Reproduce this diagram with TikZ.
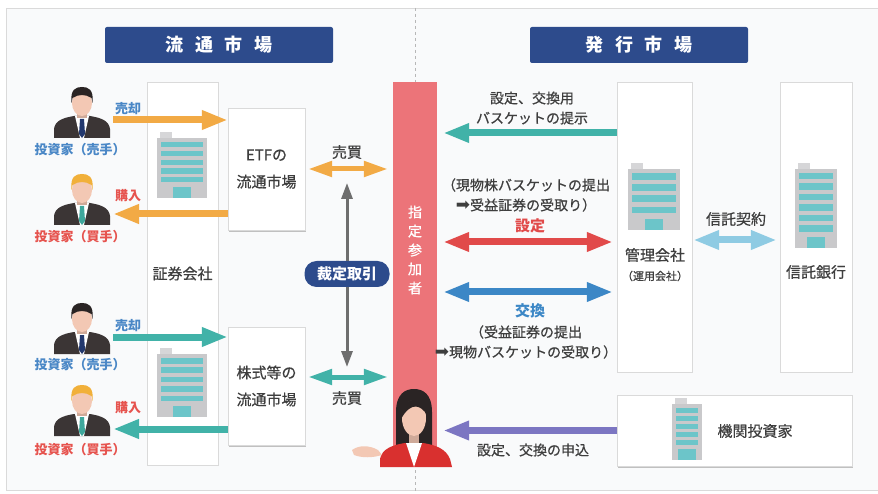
\documentclass[tikz,border=0pt]{standalone}
\usepackage{fontspec}
\setmainfont{Noto Sans CJK JP}
\newfontfamily\medfont[FakeBold=0.6]{Noto Sans CJK JP}
\newfontfamily\symfont{DejaVu Sans}
\usepackage{tikz}
\usetikzlibrary{arrows.meta,positioning,shadows}
\definecolor{headnavy}{HTML}{2D4B8C}
\definecolor{txtgray}{HTML}{3E3E3E}
\definecolor{sellblue}{HTML}{4A87C6}
\definecolor{buyred}{HTML}{E6534E}
\definecolor{arrorange}{HTML}{F2AA45}
\definecolor{arrteal}{HTML}{41B2A8}
\definecolor{arrred}{HTML}{E14A4A}
\definecolor{arrblue}{HTML}{3C87C6}
\definecolor{arrsky}{HTML}{8FCBE3}
\definecolor{arrpurple}{HTML}{7C76C2}
\definecolor{arrgray}{HTML}{6E6E6E}
\definecolor{barred}{HTML}{EC7479}
\definecolor{panelbg}{HTML}{F9FAFB}
\definecolor{framegray}{HTML}{DADADA}
\definecolor{bldgray}{HTML}{C9C9CB}
\definecolor{bldteal}{HTML}{6CC5C9}
\definecolor{suit}{HTML}{3B3535}
\definecolor{skin}{HTML}{F3C8B4}
\definecolor{hairdark}{HTML}{2A2424}
\definecolor{hairblond}{HTML}{F1B03A}
\definecolor{tienavy}{HTML}{22386E}
\definecolor{tieteal}{HTML}{3EA79C}
\definecolor{jacket}{HTML}{D9302F}

% office building: x0, y0, x1, y1, floors
\newcommand\officeicon[5]{%
  \fill[bldgray!75] (#1+3,#2) rectangle (#1+15,#2+7);
  \fill[bldgray] (#1,#2+6) rectangle (#3,#4);
  \pgfmathsetmacro\floorstep{(#4-#2-22)/#5}
  \foreach \fl in {1,...,#5}
    \fill[bldteal] (#1+4,{#2+10+(\fl-1)*\floorstep}) rectangle (#3-4,{#2+10+(\fl-1)*\floorstep+0.6*\floorstep});
  \fill[bldteal] ({(#1+#3)/2-9},#4-11) rectangle ({(#1+#3)/2+9},#4);
}

\tikzset{
  pics/investor/.style n args={2}{code={
    \fill[suit] (-28,35) -- (-28,26) .. controls (-27,18) and (-20,15) .. (-8,13)
      -- (8,13) .. controls (20,15) and (27,18) .. (28,26) -- (28,35) -- cycle;
    \fill[white] (-7,13) -- (7,13) -- (2,35) -- (-2,35) -- cycle;
    \fill[#2] (-2,16) -- (2,16) -- (3,31) -- (0,35) -- (-3,31) -- cycle;
    \fill[skin!85!black] (-5,6) rectangle (5,15);
    \fill[skin] (0,0) ellipse (10 and 13);
    \fill[#1] (-10.5,0) .. controls (-12,-14) and (-6,-16) .. (0,-16)
      .. controls (6,-16) and (12,-14) .. (10.5,0) -- (9.5,-5)
      .. controls (4,-9) and (-4,-9) .. (-9.5,-5) -- cycle;
  }},
  pics/agent/.style={code={
    \fill[hairdark] (-18,35) -- (-18,-5) .. controls (-18,-23) and (-9,-28) .. (0,-28)
      .. controls (9,-28) and (18,-23) .. (18,-5) -- (18,35) -- cycle;
    \fill[skin!85!black] (-5,10) rectangle (5,28);
    \fill[jacket] (-34,50) -- (-34,42) .. controls (-32,32) and (-22,28) .. (-9,26)
      -- (9,26) .. controls (22,28) and (32,32) .. (36,42) -- (38,50) -- cycle;
    \fill[white] (-8,26) -- (8,26) -- (0,50) -- cycle;
    \fill[skin] (0,1) ellipse (12 and 18);
    \fill[hairdark] (-13,2) .. controls (-14,-22) and (11,-24) .. (13,-2)
      .. controls (7,-12) and (-3,-16) .. (-13,2) -- cycle;
    \fill[skin] (-62,33) .. controls (-55,28) and (-45,28) .. (-36,33) -- (-32,38)
      .. controls (-42,41) and (-52,41) .. (-60,38) -- cycle;
  }}
}

\begin{document}
\begin{tikzpicture}[
  x=1pt,y=-1pt,
  every node/.style={text=txtgray,font=\medfont\fontsize{15}{18}\selectfont},
  header/.style={fill=headnavy,rounded corners=2pt,minimum height=36pt,text=white,
    font=\rmfamily\fontsize{18}{20}\selectfont\bfseries},
  column/.style={draw=framegray,fill=white},
  market/.style={draw=framegray,fill=white,align=center,
    drop shadow={shadow xshift=1pt,shadow yshift=-2pt,fill=black!30,opacity=.8},
    font=\medfont\fontsize{15}{27}\selectfont},
  note/.style={inner sep=1pt,align=center,font=\medfont\fontsize{14}{20}\selectfont},
  seller/.style={inner sep=1pt,text=sellblue,font=\rmfamily\fontsize{13}{15}\selectfont\bfseries},
  buyer/.style={inner sep=1pt,text=buyred,font=\rmfamily\fontsize{13}{15}\selectfont\bfseries},
  flow/.style={line width=7pt,-{Triangle[length=26pt,width=18pt]}},
  flowboth/.style={line width=7pt,{Triangle[length=26pt,width=18pt]}-{Triangle[length=26pt,width=18pt]}},
  trade/.style={line width=5pt,{Triangle[length=24pt,width=15pt]}-{Triangle[length=24pt,width=15pt]}},
  arbflow/.style={line width=3pt,draw=arrgray,-{Triangle[length=16pt,width=11pt]}}
]
\useasboundingbox (0,0) rectangle (878,494);
\fill[white] (0,0) rectangle (878,494);
\draw[framegray,fill=panelbg] (6,8) rectangle (884,490);
\draw[dashed,arrgray!50,line width=1pt] (415,8) -- (415,494);

% headers
\node[header,minimum width=228pt] (secondary) at (219,45) {流\hspace{.65em}通\hspace{.65em}市\hspace{.65em}場};
\node[header,minimum width=218pt] (primary) at (639,45) {発\hspace{.65em}行\hspace{.65em}市\hspace{.65em}場};

% secondary market
\node[column,minimum width=71pt,minimum height=383pt] (broker) at (182.5,273.5) {証券会社};
\officeicon{157}{132}{207}{198}{5}
\officeicon{157}{348}{207}{417}{5}
\node[market,minimum width=77pt,minimum height=122pt] (etf) at (266.5,169) {ETFの\\流通市場};
\node[market,minimum width=77pt,minimum height=118pt] (stock) at (266.5,386) {株式等の\\流通市場};

\pic at (82,103) {investor={hairdark}{tienavy}};
\pic at (82,190) {investor={hairblond}{tieteal}};
\pic at (82,319) {investor={hairdark}{tienavy}};
\pic at (82,401) {investor={hairblond}{tieteal}};
\node[seller] (inv1) at (80,150) {投資家（売手）};
\node[buyer] (inv2) at (80,237) {投資家（買手）};
\node[seller] (inv3) at (80,365) {投資家（売手）};
\node[buyer] (inv4) at (80,450) {投資家（買手）};

\coordinate (sell1) at (113,120);
\coordinate (buy1) at (113,214);
\coordinate (sell2) at (113,337);
\coordinate (buy2) at (113,429);
\draw[flow,arrorange] (sell1) -- (sell1 -| etf.west);
\draw[flow,arrorange] (buy1 -| etf.west) -- (buy1);
\draw[flow,arrteal] (sell2) -- (sell2 -| stock.west);
\draw[flow,arrteal] (buy2 -| stock.west) -- (buy2);
\node[seller] at (128,109) {売却};
\node[buyer] at (128,196) {購入};
\node[seller] at (128,326) {売却};
\node[buyer] at (128,408) {購入};

% authorised participant
\node[fill=barred,minimum width=44pt,minimum height=385pt,inner sep=0pt] (bar) at (415,274.5) {};
\node[text=white,align=center,font=\medfont\fontsize{14}{19}\selectfont] (barlbl) at (415,250) {指\\定\\参\\加\\者};
\pic at (414,417) {agent};

\coordinate (stocktrade) at ([yshift=9pt]stock.east);
\draw[trade,arrorange,shorten <=3pt,shorten >=5pt] (etf.east) -- (etf.east -| bar.west);
\draw[trade,arrteal,shorten <=3pt,shorten >=5pt] (stocktrade) -- (stocktrade -| bar.west);
\node[note,font=\medfont\fontsize{15}{18}\selectfont] at (347,152) {売買};
\node[note,font=\medfont\fontsize{15}{18}\selectfont] at (347,398) {売買};

\node[fill=headnavy,rounded corners=12pt,text=white,minimum width=85pt,minimum height=26pt,
  inner sep=2pt,font=\rmfamily\fontsize{15}{18}\selectfont\bfseries] (arb) at (347,274) {裁定取引};
\coordinate (arbup) at (347,183);
\coordinate (arbdown) at (347,367);
\draw[arbflow] (arb.north) -- (arbup);
\draw[arbflow] (arb.south) -- (arbdown);

% primary market
\node[column,minimum width=75pt,minimum height=290pt] (kanri) at (654.5,227) {};
\node[column,minimum width=72pt,minimum height=290pt] (trust) at (816,227) {};
\officeicon{628}{163}{680}{230}{4}
\officeicon{795}{163}{837}{248}{6}
\node (kanrilbl) at (655,255) {管理会社};
\node[font=\medfont\fontsize{11}{13}\selectfont] (unyo) at (655,276) {（運用会社）};
\node (trustlbl) at (816,272) {信託銀行};

\node[market,minimum width=235pt,minimum height=71pt] (inst) at (734.5,430.5) {};
\officeicon{672}{398}{702}{460}{5}
\node (instlbl) at (755,431) {機関投資家};

\draw[flow,arrteal,shorten >=6pt] (kanri.west |- 0,133) -- (bar.east |- 0,133);
\draw[flowboth,arrred,shorten <=6pt,shorten >=4pt] (bar.east |- 0,242) -- (kanri.west |- 0,242);
\draw[flowboth,arrblue,shorten <=6pt,shorten >=4pt] (bar.east |- 0,292) -- (kanri.west |- 0,292);
\draw[flow,arrpurple,shorten >=6pt] (inst.west) -- (inst.west -| bar.east);
\draw[flowboth,arrsky,shorten <=1pt,shorten >=3pt] (kanri.east |- 0,240) -- (trust.west |- 0,240);

\node[note] at (532,108) {設定、交換用\\バスケットの提示};
\node[note] at (526,195) {（現物株バスケットの提出\\{\symfont\fontsize{17}{20}\selectfont ➡}受益証券の受取り）};
\node[note,text=arrred,font=\rmfamily\fontsize{15}{18}\selectfont\bfseries] at (530,226) {設定};
\node[note,text=arrblue,font=\rmfamily\fontsize{15}{18}\selectfont\bfseries] at (530,311) {交換};
\node[note] at (526,342) {（受益証券の提出\\{\symfont\fontsize{17}{20}\selectfont ➡}現物バスケットの受取り）};
\node[note] at (533,450) {設定、交換の申込};
\node at (736,219) {信託契約};
\end{tikzpicture}
\end{document}
